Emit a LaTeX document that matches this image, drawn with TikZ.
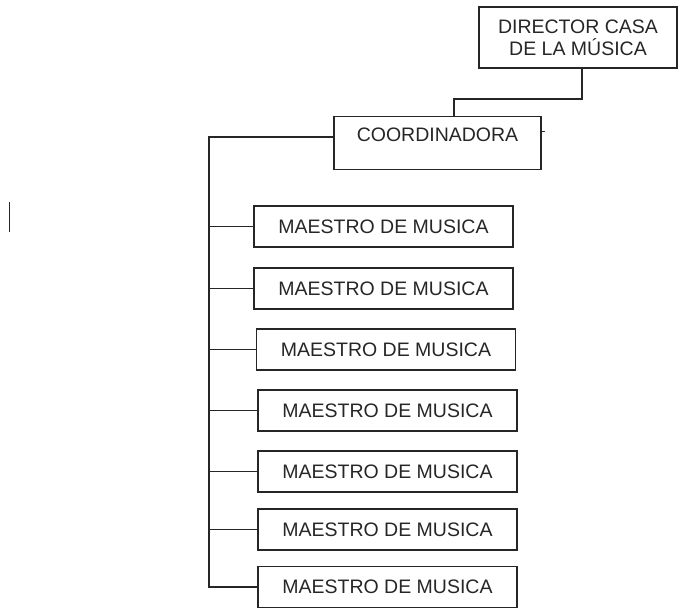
\documentclass[tikz,border=0pt]{standalone}
\usepackage{fontspec}
\setmainfont{Liberation Sans}
\usetikzlibrary{calc, positioning}

\begin{document}
\begin{tikzpicture}[x=1pt, y=-1pt, line width=1.4pt, color=black!85,
  box/.style={draw, inner sep=0pt, minimum width=259pt, minimum height=41pt,
    font=\fontsize{19.5}{22}\selectfont}]
  \useasboundingbox (0,0) rectangle (678,608);

  \node[box, minimum width=198pt, minimum height=61pt, align=center] (dir) at (578, 37.5) {DIRECTOR CASA\\DE LA MÚSICA};
  \node[box, minimum width=207pt, inner ysep=0pt, text height=25pt, text depth=28pt, anchor=north] (coord) at (437.5, 116) {COORDINADORA};

  \foreach \i/\x/\y in {1/383.5/226.5, 2/383.5/288.5, 3/386/349.5, 4/387.5/410.5,
                        5/387.5/471.5, 6/387.5/529.5, 7/387.5/587}
    \node[box] (m\i) at (\x, \y) {MAESTRO DE MUSICA};

  % director to coordinadora
  \coordinate (split) at (454, 99);
  \draw ([xshift=4pt]dir.south) |- (split) -- (split |- coord.north);
  \draw ([yshift=12pt]coord.east) -- ++(3, 0);

  % trunk to the maestros
  \coordinate (trunk) at (209, 137);
  \draw (coord.west |- trunk) -- (trunk) |- (m7.west);
  \foreach \i in {1,...,6}
    \draw (trunk |- m\i.west) -- (m\i.west);

  \draw (9.5, 202) -- (9.5, 232);
\end{tikzpicture}
\end{document}
